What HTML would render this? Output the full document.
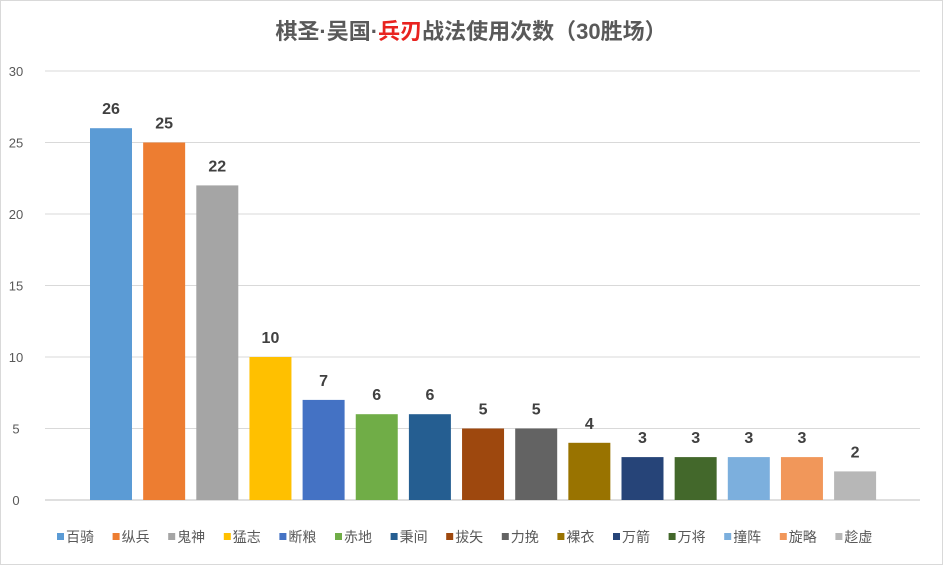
<!DOCTYPE html>
<html><head><meta charset="utf-8"><style>
html,body{margin:0;padding:0;background:#fff;}
svg{display:block;font-family:"Liberation Sans","Noto Sans CJK SC",sans-serif;}
</style></head><body>
<svg id="chart" width="943" height="565" viewBox="0 0 943 565">
<rect x="0.5" y="0.5" width="942" height="564" fill="#fff" stroke="#d9d9d9"/>
<text x="471" y="39" text-anchor="middle" font-size="22" font-weight="bold" fill="#595959">棋圣·吴国·<tspan fill="#e8231f">兵刃</tspan>战法使用次数（30胜场）</text>
<g id="grid"></g>
<g id="yticks"></g>
<g id="bars"></g>
<g id="legend"></g>
</svg>
<script>
const categories=["百骑","纵兵","鬼神","猛志","断粮","赤地","秉间","拔矢","力挽","裸衣","万箭","万将","撞阵","旋略","趁虚"];
const values=[26,25,22,10,7,6,6,5,5,4,3,3,3,3,2];
const yTicks=[0,5,10,15,20,25,30];
const colors=["#5b9bd5","#ed7d31","#a5a5a5","#ffc000","#4472c4","#70ad47","#255e91","#9e480e","#636363","#997300","#264478","#43682b","#7cafdd","#f1975a","#b7b7b7"];
const NS="http://www.w3.org/2000/svg";
const y0=500,yTop=71,yMax=30;
const yS=v=>y0-(v/yMax)*(y0-yTop);
const xC=i=>111+i*53.15;
const bw=42;
function mk(t,a,p){const e=document.createElementNS(NS,t);for(const k in a)e.setAttribute(k,a[k]);p.appendChild(e);return e;}
const grid=document.getElementById('grid'),yt=document.getElementById('yticks'),bars=document.getElementById('bars'),leg=document.getElementById('legend');
yTicks.forEach(t=>{
  const l=mk('line',{x1:45,x2:920,y1:yS(t),y2:yS(t),stroke:t===0?'#bfbfbf':'#d9d9d9','stroke-width':1},grid);
  
  
  const tx=mk('text',{x:16,y:yS(t)+5,'text-anchor':'middle','font-size':13,fill:'#595959'},yt);
  tx.textContent=t;
  
  
});
values.forEach((v,i)=>{
  const r=mk('rect',{x:xC(i)-bw/2,y:yS(v),width:bw,height:y0-yS(v),fill:colors[i]},bars);
  
  
  const t=mk('text',{x:xC(i),y:yS(v)-14,'text-anchor':'middle','font-size':16,'font-weight':'bold',fill:'#404040'},bars);
  t.textContent=v;
  
  
  const lx=57+i*55.6;
  const s=mk('rect',{x:lx,y:533,width:7,height:7,fill:colors[i]},leg);
  
  
  const lt=mk('text',{x:lx+9,y:542,'font-size':14,fill:'#595959'},leg);
  lt.textContent=categories[i];
  
  
});
</script>
</body></html>
